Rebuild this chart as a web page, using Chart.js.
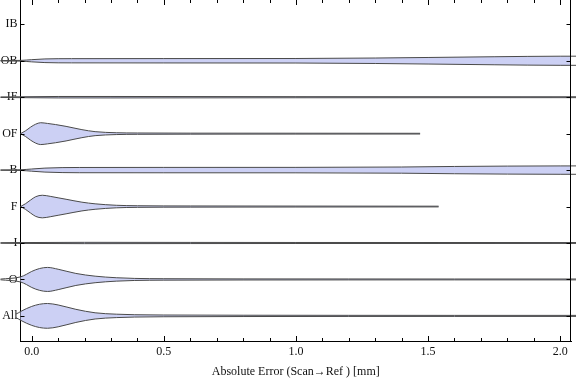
<!DOCTYPE html>
<html>
<head>
<meta charset="utf-8">
<script src="https://cdn.jsdelivr.net/npm/chart.js@4"></script>
<style>
  body { margin: 0; background: #fff; }
  #wrap { width: 576px; height: 381px; }
</style>
</head>
<body>
<div id="wrap"><canvas id="violins" width="576" height="381"></canvas></div>
<script>
const categories = ['IB', 'OB', 'IF', 'OF', 'B', 'F', 'I', 'O', 'All'];
const xTicks = [0, 0.5, 1, 1.5, 2];

// [absolute error (mm), half width of the violin (in category spacings)]
const violinIB = [];
const violinOB = [[-0.118, 0.005], [-0.042, 0.01], [0, 0.03], [0.05, 0.05], [0.15, 0.058], [0.5, 0.06], [1.0, 0.062], [1.3, 0.075], [1.5, 0.09], [1.75, 0.11], [2.0, 0.125], [2.08, 0.125]];
const violinIF = [[-0.118, 0.008], [-0.042, 0.012], [0.1, 0.02], [0.3, 0.02], [1.0, 0.015], [2.08, 0.012]];
const violinOF = [[-0.042, 0], [-0.023, 0.08], [-0.004, 0.18], [0.015, 0.26], [0.034, 0.30], [0.06, 0.28], [0.09, 0.25], [0.13, 0.20], [0.19, 0.11], [0.24, 0.055], [0.32, 0.025], [0.4, 0.018], [0.6, 0.014], [1.0, 0.012], [1.47, 0.01]];
const violinB = [[-0.118, 0.005], [-0.042, 0.01], [0, 0.03], [0.05, 0.055], [0.18, 0.072], [0.5, 0.074], [1.0, 0.075], [1.4, 0.085], [1.6, 0.1], [1.8, 0.11], [2.0, 0.115], [2.08, 0.115]];
const violinF = [[-0.042, 0], [-0.023, 0.08], [-0.004, 0.18], [0.015, 0.27], [0.04, 0.31], [0.07, 0.28], [0.1, 0.24], [0.13, 0.20], [0.19, 0.12], [0.24, 0.075], [0.32, 0.035], [0.4, 0.022], [0.6, 0.016], [1.0, 0.013], [1.54, 0.01]];
const violinI = [[-0.118, 0.008], [-0.042, 0.012], [0.2, 0.018], [0.6, 0.016], [1.0, 0.014], [2.08, 0.012]];
const violinO = [[-0.118, 0.01], [-0.042, 0.07], [-0.02, 0.14], [0, 0.22], [0.03, 0.30], [0.06, 0.33], [0.1, 0.28], [0.167, 0.165], [0.24, 0.09], [0.32, 0.047], [0.39, 0.028], [0.5, 0.02], [0.8, 0.015], [1.2, 0.013], [1.6, 0.012], [2.08, 0.012]];
const violinAll = [[-0.118, 0.012], [-0.06, 0.05], [-0.042, 0.12], [-0.02, 0.2], [0, 0.26], [0.03, 0.32], [0.06, 0.34], [0.1, 0.3], [0.167, 0.18], [0.24, 0.085], [0.32, 0.047], [0.39, 0.032], [0.5, 0.024], [0.8, 0.018], [1.2, 0.015], [1.6, 0.014], [2.08, 0.014]];

const violins = [violinIB, violinOB, violinIF, violinOF, violinB, violinF, violinI, violinO, violinAll];

const fillColor = '#ccd0f4';
const edgeColor = '#4a4a4a';
const font = { family: '"Liberation Serif", "DejaVu Serif", serif', size: 12 };

const lineStyle = {
  borderColor: edgeColor,
  borderWidth: 1,
  pointRadius: 0,
  cubicInterpolationMode: 'monotone',
  clip: { left: 25, top: 0, right: 6, bottom: 0 }
};

const datasets = [];
violins.forEach((pts, i) => {
  if (!pts.length) return;
  datasets.push({ ...lineStyle, data: pts.map(([x, w]) => ({ x, y: i - w })), fill: false });
  datasets.push({ ...lineStyle, data: pts.map(([x, w]) => ({ x, y: i + w })), fill: '-1', backgroundColor: fillColor });
});

// frame and inward tick marks, like the original plot
const frameTicks = {
  id: 'frameTicks',
  afterDraw(chart) {
    const { ctx, chartArea: a, scales: { x, y } } = chart;
    ctx.save();
    ctx.strokeStyle = '#000';
    ctx.lineWidth = 1;
    ctx.beginPath();
    const right = Math.round(a.right) - 0.5;
    ctx.moveTo(right, a.top);
    ctx.lineTo(right, a.bottom);
    for (let i = 0; i <= 20; i++) {
      const px = Math.round(x.getPixelForValue(i / 10)) + 0.5;
      const len = i % 5 === 0 ? 5 : 3;
      ctx.moveTo(px, a.bottom);
      ctx.lineTo(px, a.bottom - len);
      ctx.moveTo(px, a.top);
      ctx.lineTo(px, a.top + len);
    }
    categories.forEach((c, i) => {
      const py = Math.round(y.getPixelForValue(i)) + 0.5;
      ctx.moveTo(a.left, py);
      ctx.lineTo(a.left + 4, py);
      ctx.moveTo(right, py);
      ctx.lineTo(right - 4, py);
    });
    ctx.stroke();
    ctx.restore();
  }
};

const noPad = s => {
  s.paddingTop = 0;
  s.paddingBottom = 0;
  s.paddingLeft = 0;
  s.paddingRight = 0;
};

new Chart(document.getElementById('violins'), {
  type: 'line',
  data: { datasets },
  options: {
    responsive: false,
    animation: false,
    layout: { padding: { left: 0, right: 5, top: 0, bottom: 0 } },
    plugins: { legend: { display: false }, tooltip: { enabled: false } },
    scales: {
      x: {
        type: 'linear',
        min: -0.0424,
        max: 2.041,
        afterBuildTicks: s => { s.ticks = xTicks.map(v => ({ value: v })); },
        afterFit: s => { s.height = 40; noPad(s); },
        grid: { display: false, drawTicks: false },
        border: { color: '#000', width: 1 },
        ticks: { font, color: '#111', padding: 4, maxRotation: 0, callback: v => v.toFixed(1) },
        title: { display: true, text: 'Absolute Error (Scan→Ref ) [mm]', font, color: '#111', padding: { top: 4, bottom: 2 } }
      },
      y: {
        type: 'linear',
        reverse: true,
        min: -0.667,
        max: 8.689,
        afterBuildTicks: s => { s.ticks = categories.map((c, i) => ({ value: i })); },
        afterFit: s => { s.width = 20.5; noPad(s); },
        grid: { display: false, drawTicks: false },
        border: { color: '#000', width: 1 },
        ticks: { font, color: '#111', padding: 3, callback: v => categories[v] }
      }
    }
  },
  plugins: [frameTicks]
});
</script>
</body>
</html>
